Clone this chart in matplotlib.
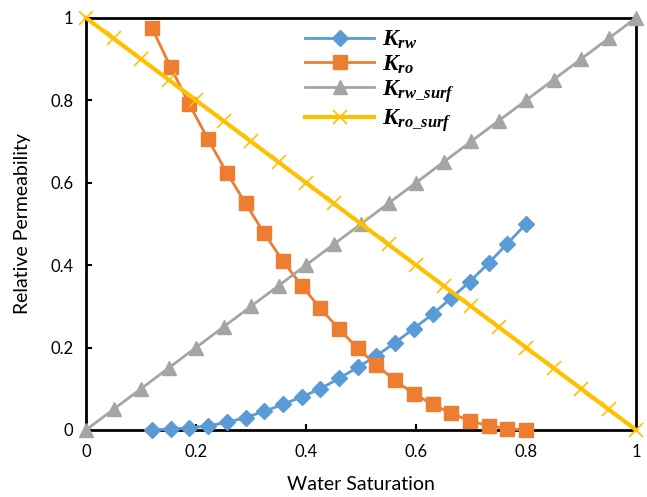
import matplotlib
matplotlib.use("Agg")
import matplotlib.pyplot as plt

plt.rcParams['font.family'] = ['Lato', 'DejaVu Sans']
plt.rcParams['mathtext.fontset'] = 'custom'
plt.rcParams['mathtext.rm'] = 'Liberation Serif'
plt.rcParams['mathtext.it'] = 'Liberation Serif:italic:bold'
plt.rcParams['mathtext.bf'] = 'Liberation Serif:bold'

# water saturation for the measured curves
sw = [0.12, 0.154, 0.188, 0.222, 0.256, 0.29, 0.324, 0.358, 0.392, 0.426, 0.46,
      0.494, 0.528, 0.562, 0.596, 0.63, 0.664, 0.698, 0.732, 0.766, 0.8]
krw = [0.0, 0.002, 0.005, 0.01, 0.018, 0.03, 0.045, 0.062, 0.08, 0.1, 0.125,
       0.152, 0.18, 0.212, 0.246, 0.281, 0.32, 0.36, 0.405, 0.452, 0.5]
kro = [0.975, 0.88, 0.79, 0.705, 0.624, 0.55, 0.477, 0.41, 0.35, 0.295, 0.245,
       0.198, 0.157, 0.12, 0.088, 0.062, 0.04, 0.022, 0.01, 0.003, 0.0]

# straight-line (surfactant) curves
sw_surf = [0.0, 0.05, 0.1, 0.15, 0.2, 0.25, 0.3, 0.35, 0.4, 0.45, 0.5,
           0.55, 0.6, 0.65, 0.7, 0.75, 0.8, 0.85, 0.9, 0.95, 1.0]
krw_surf = [0.0, 0.05, 0.1, 0.15, 0.2, 0.25, 0.3, 0.35, 0.4, 0.45, 0.5,
            0.55, 0.6, 0.65, 0.7, 0.75, 0.8, 0.85, 0.9, 0.95, 1.0]
kro_surf = [1.0, 0.95, 0.9, 0.85, 0.8, 0.75, 0.7, 0.65, 0.6, 0.55, 0.5,
            0.45, 0.4, 0.35, 0.3, 0.25, 0.2, 0.15, 0.1, 0.05, 0.0]

fig = plt.figure(figsize=(6.47, 4.97), dpi=100)
ax = fig.add_axes([0.133, 0.135, 0.850, 0.829])

ax.plot(sw, krw, color='#5B9BD5', lw=2, marker='D', ms=8, label=r'$K_{rw}$', clip_on=False, zorder=3)
ax.plot(sw, kro, color='#ED7D31', lw=2, marker='s', ms=10.5, label=r'$K_{ro}$', clip_on=False, zorder=4)
ax.plot(sw_surf, krw_surf, color='#A5A5A5', lw=2, marker='^', ms=10, label=r'$K_{rw\_surf}$', clip_on=False, zorder=5)
ax.plot(sw_surf, kro_surf, color='#FFC000', lw=3, marker='x', ms=10, mew=1.2,
        label=r'$K_{ro\_surf}$', clip_on=False, zorder=6)

ax.set_xlim(0, 1)
ax.set_ylim(0, 1)
ax.set_xticks([0, 0.2, 0.4, 0.6, 0.8, 1])
ax.set_xticklabels(['0', '0.2', '0.4', '0.6', '0.8', '1'])
ax.set_yticks([0, 0.2, 0.4, 0.6, 0.8, 1])
ax.set_yticklabels(['0', '0.2', '0.4', '0.6', '0.8', '1'])
ax.tick_params(direction='in', length=4, width=1.5, labelsize=12)
ax.tick_params(axis='x', pad=10)
ax.tick_params(axis='y', pad=9)
for s in ax.spines.values():
    s.set_linewidth(2)
    s.set_color('black')

ax.set_xlabel('Water Saturation', fontsize=14, labelpad=12)
ax.set_ylabel('Relative Permeability', fontsize=14, labelpad=14)

leg = ax.legend(loc='upper left', bbox_to_anchor=(0.36, 1.025), frameon=False,
                fontsize=17, handlelength=2.9, labelspacing=0.1, handletextpad=0.35)

fig.savefig('out.png', dpi=100)
